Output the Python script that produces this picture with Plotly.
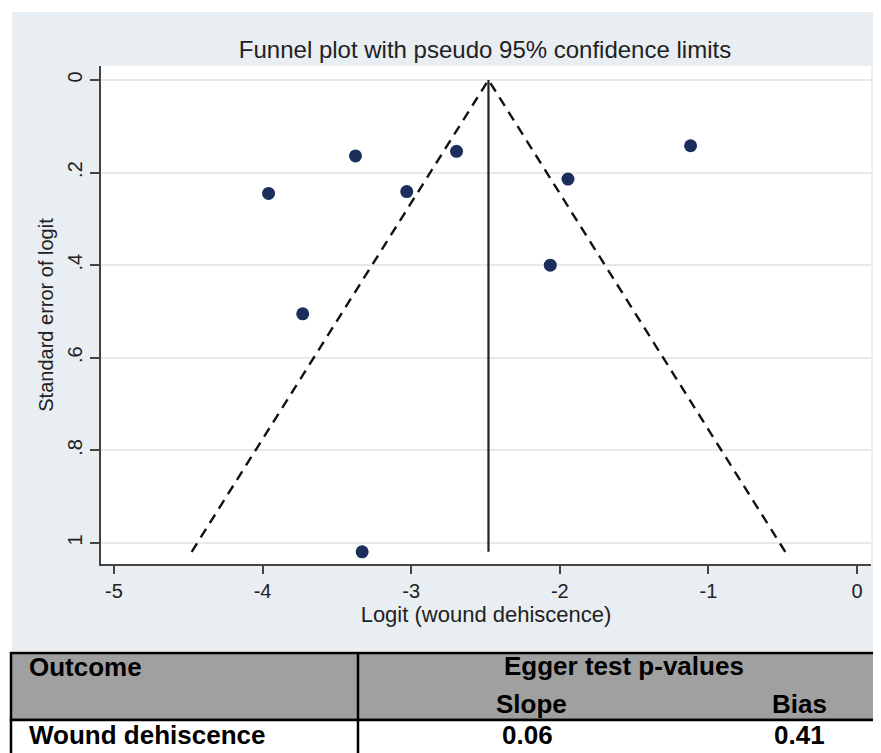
import plotly.graph_objects as go

# ---------------- data ----------------
logit = [-3.96, -3.375, -2.695, -3.03, -1.945, -1.12, -2.064, -3.73, -3.33]
se_logit = [0.245, 0.164, 0.154, 0.241, 0.214, 0.142, 0.400, 0.505, 1.019]
pooled = -2.48
z95 = 1.96

y_ticks = [0, 0.2, 0.4, 0.6, 0.8, 1.0]
y_ticklabels = ["0", ".2", ".4", ".6", ".8", "1"]
x_ticks = [-5, -4, -3, -2, -1, 0]
x_ticklabels = ["-5", "-4", "-3", "-2", "-1", "0"]

table_header = ["Outcome", "Egger test p-values"]
table_subheader = ["Slope", "Bias"]
table_outcomes = ["Wound dehiscence"]
table_slope = ["0.06"]
table_bias = ["0.41"]

# ---------------- layout geometry ----------------
# the page body has an 8px margin, so the figure is drawn 8px in from the corner
OFF = 8
W, H = 881 - OFF, 753 - OFF
L, R, T, B = 101 - OFF, 10, 66 - OFF, 189
PW, PH = W - L - R, H - T - B


def xp(px):
    """reference-page pixel x -> paper coordinate"""
    return (px - OFF - L) / PW


def yp(py):
    """reference-page pixel y -> paper coordinate"""
    return (H - B - (py - OFF)) / PH


se_max = max(se_logit)
BG = "#e8eef2"
NAVY = "#1c2f5c"
FONT = "Liberation Sans"

fig = go.Figure()

# funnel limits
fig.add_trace(go.Scatter(
    x=[pooled - z95 * se_max, pooled, pooled + z95 * se_max],
    y=[se_max, 0, se_max],
    mode="lines",
    line=dict(color="#111111", width=2.4, dash="10px,7px"),
    hoverinfo="skip", showlegend=False))
# pooled estimate
fig.add_trace(go.Scatter(
    x=[pooled, pooled], y=[0, se_max], mode="lines",
    line=dict(color="#222222", width=2.2),
    hoverinfo="skip", showlegend=False))
# studies
fig.add_trace(go.Scatter(
    x=logit, y=se_logit, mode="markers",
    marker=dict(color=NAVY, size=13),
    showlegend=False))

shapes = []
# white outer strips
shapes.append(dict(type="rect", xref="paper", yref="paper", x0=xp(-20), x1=xp(W + 30),
                   y0=yp(12), y1=yp(-20), fillcolor="white", line=dict(width=0)))
shapes.append(dict(type="rect", xref="paper", yref="paper", x0=xp(-20), x1=xp(12),
                   y0=yp(H + 30), y1=yp(-20), fillcolor="white", line=dict(width=0)))
shapes.append(dict(type="rect", xref="paper", yref="paper", x0=xp(-20), x1=xp(W + 30),
                   y0=yp(H + 30), y1=yp(651), fillcolor="white", line=dict(width=0)))
# table
shapes.append(dict(type="rect", xref="paper", yref="paper", x0=xp(11), x1=xp(879),
                   y0=yp(720), y1=yp(653), fillcolor="#a0a0a0",
                   line=dict(color="black", width=2.5)))
shapes.append(dict(type="rect", xref="paper", yref="paper", x0=xp(11), x1=xp(879),
                   y0=yp(770), y1=yp(720), fillcolor="white",
                   line=dict(color="black", width=2.5)))
shapes.append(dict(type="line", xref="paper", yref="paper", x0=xp(358), x1=xp(358),
                   y0=yp(653), y1=yp(770), line=dict(color="black", width=2.5)))

ann = []
bold = dict(family=FONT, size=26, color="black", weight="bold")


def add_text(txt, px, py, anchor="center"):
    ann.append(dict(text="<b>%s</b>" % txt, xref="paper", yref="paper",
                    x=xp(px), y=yp(py), xanchor=anchor, yanchor="middle",
                    showarrow=False, font=bold))


add_text(table_header[0], 27, 667, "left")
add_text(table_header[1], 624, 666)
add_text(table_subheader[0], 531, 704)
add_text(table_subheader[1], 799, 704)
add_text(table_outcomes[0], 27, 735, "left")
add_text(table_slope[0], 527, 735)
add_text(table_bias[0], 799, 735)

fig.update_layout(
    width=W, height=H, autosize=False,
    margin=dict(l=L, r=R, t=T, b=B, pad=0),
    paper_bgcolor=BG, plot_bgcolor="white",
    font=dict(family=FONT, size=20, color="#222222"),
    title=dict(text="Funnel plot with pseudo 95% confidence limits",
               x=xp(485), xanchor="center", xref="paper",
               y=1 - (50 - OFF) / H, yanchor="middle", yref="container",
               font=dict(family=FONT, size=24, color="#222222")),
    shapes=shapes, annotations=ann,
    xaxis=dict(range=[-5.0875, 0.0942], tickvals=x_ticks, ticktext=x_ticklabels,
               showgrid=False, zeroline=False, showline=True, linecolor="#444444",
               linewidth=1.5, ticks="outside", ticklen=8, tickwidth=1.5,
               tickcolor="#444444", tickfont=dict(size=20),
               title=dict(text="Logit (wound dehiscence)", standoff=2,
                          font=dict(size=22))),
    yaxis=dict(range=[1.0454, -0.0302], tickvals=y_ticks, ticktext=y_ticklabels,
               tickangle=-90, showgrid=True, gridcolor="#e2eaee", gridwidth=1.5,
               zeroline=False, showline=True, linecolor="#444444", linewidth=1.5,
               ticks="outside", ticklen=9, tickwidth=1.5, tickcolor="#444444",
               tickfont=dict(size=20),
               title=dict(text="Standard error of logit", standoff=5,
                          font=dict(size=20))),
)

fig.write_html("out.html")
